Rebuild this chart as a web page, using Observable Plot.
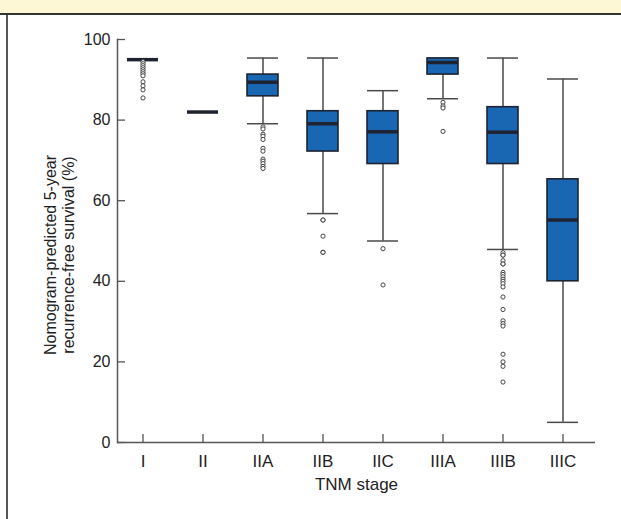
<!DOCTYPE html>
<html>
<head>
<meta charset="utf-8">
<script src="https://cdn.jsdelivr.net/npm/d3@7"></script>
<script src="https://cdn.jsdelivr.net/npm/@observablehq/plot@0.6"></script>
<style>
  html, body { margin: 0; padding: 0; background: #fff; overflow: hidden; }
  .band { height: 13px; background: #fdf7d6; border-bottom: 2px solid #333; }
  .wrap { margin-left: 6px; border-left: 2px solid #555; height: 504px; }
  .wrap svg { display: block; }
</style>
</head>
<body>
<div class="band"></div>
<div class="wrap" id="chart"></div>
<script>
// ---- data ----
const stages      = ["I", "II", "IIA", "IIB", "IIC", "IIIA", "IIIB", "IIIC"];
const whiskerLow  = [95.0, 82.0, 79.1, 56.8, 50.0, 85.3, 47.9, 5.0];
const quartile1   = [95.0, 82.0, 85.9, 72.2, 69.1, 91.3, 69.1, 40.0];
const medians     = [95.0, 82.0, 89.4, 79.1, 77.1, 94.3, 77.0, 55.2];
const quartile3   = [95.0, 82.0, 91.3, 82.2, 82.2, 95.3, 83.2, 65.3];
const whiskerHigh = [95.0, 82.0, 95.4, 95.4, 87.3, 95.3, 95.4, 90.2];
const outliers = [
  [94.5, 94, 93.5, 93, 92.5, 92, 91.5, 91, 89.5, 88.5, 87.5, 85.5],
  [],
  [78.3, 77.8, 76.5, 76, 75.2, 73, 72.3, 70.3, 69.8, 69.2, 68.5, 68],
  [55.2, 55.2, 51.2, 47.2, 47.2],
  [48.1, 39.1],
  [84.4, 83.5, 83, 77.2],
  [47.1, 46.5, 46.5, 45.1, 44.3, 44.3, 42.2, 41.7, 41.1, 40.5, 40.0, 39.4, 38.6,
   36.1, 33.0, 30.2, 29.5, 28.9, 21.9, 20.0, 18.9, 15.0],
  []
];
const yTicks = [0, 20, 40, 60, 80, 100];
const xTitle = "TNM stage";
const yTitle = ["Nomogram-predicted 5-year", "recurrence-free survival (%)"];

// ---- tables built from the arrays ----
const boxes = stages.map((s, i) => ({
  stage: s, lo: whiskerLow[i], q1: quartile1[i], med: medians[i], q3: quartile3[i], hi: whiskerHigh[i]
}));
const outlierRows = stages.flatMap((s, i) => outliers[i].map(v => ({stage: s, value: v})));

const axisColor = "#555";
const boxFill = "#1966b3";
const darkLine = "#1d2330";

const chart = Plot.plot({
  width: 613,
  height: 504,
  marginLeft: 109,
  marginRight: 26,
  marginTop: 24,
  marginBottom: 77,
  style: {fontFamily: "'Liberation Sans', Arial, sans-serif", fontSize: "16px", color: "#222", background: "transparent"},
  x: {type: "band", domain: stages, paddingInner: 0.487, paddingOuter: 0.2, align: 0.35, label: null},
  y: {domain: [0, 100], label: null},
  marks: [
    Plot.ruleY([0], {stroke: axisColor, strokeWidth: 1.5}),
    Plot.frame({anchor: "left", stroke: axisColor, strokeWidth: 1.5}),
    Plot.axisY({ticks: yTicks, tickSize: -8, tickPadding: 15, stroke: axisColor, strokeWidth: 1.3, fontSize: 16, label: null}),
    Plot.axisX({tickSize: -8, tickPadding: 20, stroke: axisColor, strokeWidth: 1.3, fontSize: 17, label: null}),
    // whiskers
    Plot.ruleX(boxes, {x: "stage", y1: "lo", y2: "hi", stroke: "#4a4a4a", strokeWidth: 1.5}),
    Plot.tickY(boxes, {x: "stage", y: "lo", stroke: "#4a4a4a", strokeWidth: 1.5}),
    Plot.tickY(boxes, {x: "stage", y: "hi", stroke: "#4a4a4a", strokeWidth: 1.5}),
    // boxes
    Plot.barY(boxes, {x: "stage", y1: "q1", y2: "q3", fill: boxFill, stroke: darkLine, strokeWidth: 1.6}),
    // medians
    Plot.tickY(boxes, {x: "stage", y: "med", stroke: darkLine, strokeWidth: 3.5}),
    // outliers
    Plot.dot(outlierRows, {x: "stage", y: "value", r: 2.1, stroke: "#333", fill: "white", strokeWidth: 0.9}),
    // titles
    Plot.text([yTitle.join("\n")], {frameAnchor: "left", textAnchor: "middle", rotate: -90, dx: -58, dy: 14, fontSize: 16, lineHeight: 1.1, fill: "#222"}),
    Plot.text([xTitle], {frameAnchor: "bottom", dy: 47, fontSize: 17, fill: "#222"})
  ]
});
document.getElementById("chart").appendChild(chart);
</script>
</body>
</html>
